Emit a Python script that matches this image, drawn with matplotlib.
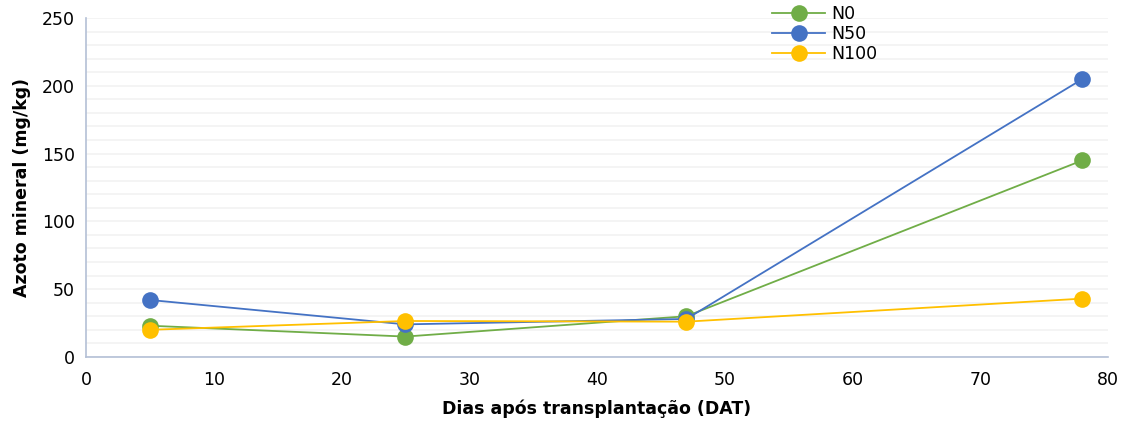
import matplotlib
matplotlib.use("Agg")
import matplotlib.pyplot as plt
from matplotlib.ticker import MultipleLocator

# Data
dias = [5, 25, 47, 78]
n0 = [23, 15, 30, 145]
n50 = [42, 24, 28, 205]
n100 = [20, 26.5, 26, 43]

series = [("N0", n0, "#70AD47"), ("N50", n50, "#4472C4"), ("N100", n100, "#FFC000")]

plt.rcParams.update({
    "font.family": ["DejaVu Sans"],
    "font.size": 12.5,
})

fig = plt.figure(figsize=(11.33, 4.30), dpi=100)
ax = fig.add_axes([0.0759, 0.170, 0.902, 0.788])

for name, vals, color in series:
    ax.plot(dias, vals, color=color, lw=1.3, marker="o", markersize=12,
            markeredgewidth=0, label=name, zorder=3)

ax.set_xlim(0, 80)
ax.set_ylim(0, 250)
ax.xaxis.set_major_locator(MultipleLocator(10))
ax.yaxis.set_major_locator(MultipleLocator(50))
ax.yaxis.set_minor_locator(MultipleLocator(10))
ax.grid(axis="y", which="both", color="#f2f2f2", lw=1.2, zorder=0)
ax.set_axisbelow(True)

for side in ("top", "right"):
    ax.spines[side].set_visible(False)
for side in ("left", "bottom"):
    ax.spines[side].set_color("#b4c0d6")
    ax.spines[side].set_linewidth(1.2)
ax.tick_params(which="both", length=0, labelsize=12.5, colors="#000000")
ax.tick_params(axis="x", pad=10)
ax.tick_params(axis="y", pad=8)

ax.set_xlabel("Dias após transplantação (DAT)", fontweight="bold", fontsize=12.5, labelpad=8)
ax.set_ylabel("Azoto mineral (mg/kg)", fontweight="bold", fontsize=12.5, labelpad=8)

fig.legend(loc="upper left", bbox_to_anchor=(0.668, 1.025), frameon=False,
           handlelength=3.0, labelspacing=0.12, handletextpad=0.4, fontsize=12.5)

fig.savefig("out.png", dpi=100)
